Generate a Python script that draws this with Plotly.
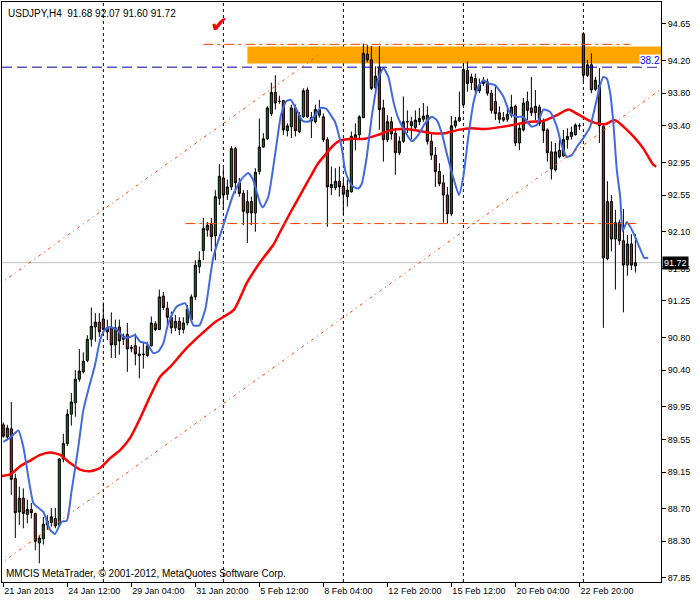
import datetime as dt
import plotly.graph_objects as go

SYMBOL = "USDJPY,H4"
FIRST_BAR = dt.datetime(2013, 1, 21, 20, 0)
BAR_HOURS = 4
LABEL_EVERY = 16

OPEN = [89.73, 89.58, 89.68, 89.07, 88.66, 88.83, 88.63, 88.69, 88.64, 88.28,
        88.33, 88.50, 88.53, 88.58, 88.50, 89.31, 89.50, 89.86, 90.00, 90.29,
        90.38, 90.52, 90.78, 90.93, 90.99, 91.03, 90.92, 90.92, 90.71, 90.93,
        90.78, 90.84, 90.68, 90.70, 90.60, 90.60, 90.58, 90.70, 90.97, 90.90,
        91.31, 91.16, 91.05, 90.92, 91.00, 90.90, 90.98, 91.02, 91.30, 91.67,
        91.87, 92.12, 92.19, 92.05, 92.51, 92.76, 92.56, 92.65, 93.12, 92.70,
        92.57, 92.33, 92.47, 92.33, 92.84, 93.14, 93.24, 93.55, 93.81, 93.70,
        93.71, 93.34, 93.39, 93.62, 93.33, 93.51, 93.84, 93.50, 93.45, 93.53,
        93.51, 93.23, 92.64, 92.64, 92.72, 92.66, 92.53, 92.59, 93.24, 93.29,
        93.50, 94.28, 94.21, 93.87, 94.12, 93.62, 93.23, 93.45, 93.31, 93.07,
        93.21, 93.45, 93.45, 93.38, 93.45, 93.48, 93.53, 93.21, 93.04, 92.84,
        92.70, 92.55, 92.32, 93.40, 93.46, 93.66, 94.08, 93.93, 93.98, 93.83,
        93.96, 93.94, 93.80, 93.70, 93.56, 93.50, 93.48, 93.53, 93.64, 93.19,
        93.35, 93.70, 93.62, 93.56, 93.63, 93.44, 93.35, 93.08, 92.86, 93.10,
        93.03, 93.23, 93.27, 93.29, 93.40, 94.53, 94.02, 94.15, 93.85, 93.90,
        93.39, 91.77, 92.47, 92.01, 92.21, 91.99, 91.69, 91.95, 91.68]
HIGH = [89.76, 89.73, 90.01, 89.13, 88.97, 88.95, 88.81, 88.77, 88.65, 88.38,
        88.60, 88.62, 88.71, 88.71, 89.32, 89.62, 89.92, 90.12, 90.40, 90.66,
        90.62, 90.83, 91.17, 91.10, 91.10, 91.23, 91.02, 91.11, 91.02, 91.02,
        90.85, 90.98, 90.71, 90.85, 90.69, 90.75, 90.75, 91.06, 91.00, 91.39,
        91.36, 91.24, 91.12, 91.08, 91.05, 91.05, 91.20, 91.33, 91.75, 91.86,
        92.27, 92.22, 92.27, 92.61, 92.93, 92.88, 92.74, 93.15, 93.14, 92.76,
        92.61, 92.61, 92.53, 92.88, 93.49, 93.31, 93.64, 93.93, 94.02, 93.77,
        93.72, 93.43, 93.66, 93.66, 93.57, 93.86, 93.87, 93.57, 93.66, 93.72,
        93.55, 93.26, 92.90, 92.88, 92.90, 92.74, 92.74, 93.33, 93.43, 93.53,
        94.41, 94.39, 94.38, 94.13, 94.38, 93.72, 93.53, 93.51, 93.37, 93.27,
        93.76, 93.59, 93.51, 93.59, 93.62, 93.68, 93.64, 93.31, 93.14, 92.94,
        92.80, 92.65, 93.52, 93.51, 93.82, 94.17, 94.19, 94.04, 94.04, 93.98,
        94.00, 93.98, 93.84, 93.88, 93.64, 93.57, 93.62, 93.78, 93.66, 93.43,
        93.74, 93.82, 94.00, 93.84, 93.66, 93.49, 93.37, 93.21, 93.19, 93.23,
        93.35, 93.37, 93.39, 93.43, 93.43, 94.55, 94.21, 94.29, 94.00, 94.11,
        93.42, 92.72, 92.55, 92.37, 92.25, 92.38, 92.06, 92.07, 92.07]
LOW = [89.57, 89.54, 88.87, 88.34, 88.50, 88.46, 88.52, 88.58, 88.19, 88.03,
       88.26, 88.44, 88.48, 88.46, 88.48, 89.27, 89.47, 89.72, 89.83, 90.26,
       90.36, 90.50, 90.69, 90.75, 90.81, 90.82, 90.77, 90.55, 90.55, 90.59,
       90.71, 90.38, 90.62, 90.46, 90.30, 90.42, 90.56, 90.69, 90.88, 90.89,
       91.14, 90.96, 90.85, 90.88, 90.83, 90.85, 90.95, 90.98, 91.26, 91.59,
       91.75, 92.04, 91.86, 91.75, 92.43, 92.37, 92.49, 92.61, 92.57, 92.53,
       92.18, 91.96, 92.18, 92.10, 92.80, 93.13, 93.23, 93.52, 93.60, 93.67,
       93.29, 93.27, 93.25, 93.27, 93.31, 93.50, 93.50, 93.25, 93.43, 93.50,
       93.20, 92.16, 92.55, 92.61, 92.53, 92.31, 92.41, 92.58, 93.10, 93.25,
       93.50, 94.18, 93.84, 93.84, 93.35, 92.96, 93.20, 93.23, 92.80, 93.04,
       93.19, 93.31, 93.23, 93.35, 93.41, 93.45, 93.17, 92.98, 92.65, 92.66,
       92.21, 92.20, 92.29, 93.37, 93.45, 93.64, 93.82, 93.84, 93.78, 93.80,
       93.89, 93.77, 93.55, 93.47, 93.43, 93.45, 93.45, 93.50, 93.15, 93.10,
       93.33, 93.47, 93.52, 93.47, 93.40, 93.19, 92.96, 92.74, 92.84, 93.00,
       93.02, 93.12, 93.23, 93.28, 93.35, 93.94, 94.00, 93.80, 93.83, 93.19,
       90.92, 91.75, 91.86, 91.39, 91.94, 91.11, 91.56, 91.63, 91.60]
CLOSE = [89.59, 89.69, 89.06, 88.65, 88.83, 88.64, 88.69, 88.65, 88.30, 88.34,
         88.51, 88.55, 88.60, 88.49, 89.31, 89.50, 89.86, 90.01, 90.29, 90.39,
         90.51, 90.78, 90.94, 90.99, 90.87, 90.90, 90.87, 90.71, 90.92, 90.76,
         90.82, 90.66, 90.67, 90.60, 90.58, 90.59, 90.70, 90.98, 90.90, 91.30,
         91.17, 91.05, 90.92, 91.00, 90.90, 90.98, 91.15, 91.30, 91.69, 91.75,
         92.14, 92.18, 92.04, 92.53, 92.78, 92.55, 92.65, 93.12, 92.70, 92.57,
         92.35, 92.47, 92.33, 92.83, 93.14, 93.24, 93.62, 93.81, 93.68, 93.70,
         93.35, 93.40, 93.62, 93.34, 93.53, 93.83, 93.51, 93.46, 93.60, 93.60,
         93.23, 92.65, 92.68, 92.72, 92.65, 92.56, 92.61, 93.27, 93.29, 93.51,
         94.29, 94.21, 93.86, 94.01, 93.60, 93.23, 93.45, 93.30, 93.07, 93.21,
         93.45, 93.45, 93.40, 93.47, 93.49, 93.52, 93.21, 93.04, 92.84, 92.69,
         92.55, 92.32, 93.40, 93.46, 93.50, 94.09, 93.92, 94.00, 93.84, 93.90,
         93.92, 93.80, 93.59, 93.55, 93.48, 93.47, 93.54, 93.63, 93.19, 93.37,
         93.68, 93.59, 93.56, 93.64, 93.43, 93.34, 93.07, 92.87, 93.08, 93.02,
         93.23, 93.27, 93.32, 93.41, 93.40, 94.02, 94.15, 93.84, 93.96, 93.40,
         91.78, 92.47, 92.01, 92.21, 91.99, 91.69, 91.95, 91.69, 91.72]

# fast moving average (blue), read at bar positions
FAST_BAR = [0, 1.7, 3.75, 5, 6.25, 7.5, 8.75, 10, 11.7, 12.9,
            14.6, 15.85, 17.1, 18.75, 20, 21.25, 22.9, 24.2, 25.4, 26.7,
            28.35, 30, 31.25, 32.9, 34.2, 35.85, 37.5, 38.75, 40, 41.25,
            43.3, 45.5, 47.5, 49, 50.5, 52.5, 55, 57.5, 59.6, 61.2,
            62.4, 64.2, 64.9, 66.25, 68.2, 69.4, 70.7, 71.8, 73.2, 74.8,
            76.2, 77.8, 79.3, 80.7, 82, 82.9, 83.8, 84.7, 85.4, 86.25,
            87.5, 88.75, 89.6, 90.85, 92.1, 93.75, 95, 96.25, 97.5, 98.75,
            100.4, 102.1, 103.75, 105.4, 107.1, 108.35, 109.6, 110.85, 112.5, 113.9,
            115, 116.25, 117.5, 118.75, 120, 121.25, 122.9, 125, 126.7, 128.35,
            130, 131.25, 132.1, 133.35, 135, 136.7, 138.35, 139.6, 140.85, 142.1,
            143.35, 145, 146.7, 147.9, 149.2, 150, 150.85, 151.7, 152.5, 153.35,
            154.2, 154.8, 155.85, 156.7, 157.9, 159.6, 160.2, 161.2]
FAST_MA = [89.52, 89.57, 89.66, 89.46, 89.09, 88.77, 88.71, 88.66, 88.44, 88.39,
           88.54, 88.55, 88.93, 89.46, 89.91, 90.16, 90.46, 90.77, 90.90, 90.93,
           90.90, 90.81, 90.80, 90.83, 90.75, 90.73, 90.61, 90.63, 90.73, 90.98,
           91.18, 91.22, 90.95, 90.95, 91.15, 91.79, 92.18, 92.56, 92.75, 92.82,
           92.74, 92.45, 92.40, 92.53, 93.14, 93.53, 93.70, 93.72, 93.61, 93.46,
           93.45, 93.52, 93.62, 93.61, 93.52, 93.45, 93.30, 93.10, 92.86, 92.74,
           92.65, 92.63, 92.69, 93.02, 93.51, 93.98, 94.11, 94.00, 93.70, 93.49,
           93.33, 93.21, 93.29, 93.43, 93.51, 93.47, 93.31, 93.06, 92.76, 92.55,
           92.78, 93.27, 93.68, 93.88, 93.96, 93.92, 93.90, 93.76, 93.55, 93.51,
           93.51, 93.43, 93.39, 93.41, 93.60, 93.57, 93.39, 93.16, 93.02, 93.04,
           93.14, 93.25, 93.39, 93.63, 93.90, 94.00, 93.98, 93.80, 93.43, 92.86,
           92.53, 92.11, 92.22, 92.16, 92.04, 91.84, 91.78, 91.78]

# slow moving average (red)
SLOW_BAR = [-0.8, 1.7, 4.2, 6.7, 9.2, 11.7, 14.2, 16.7, 19.2, 21.7,
            24.2, 26.7, 29.2, 31.7, 34.2, 36.7, 39.2, 41.7, 45.4, 49.2,
            52.9, 57.6, 60.85, 64.4, 67.5, 69.2, 71.7, 74.2, 76.7, 78.7,
            80.4, 82.1, 83.75, 87.1, 90.4, 93.75, 97.1, 100.4, 103.75, 107.1,
            110.4, 113.75, 117.1, 120.4, 125, 128.35, 131.7, 135, 138.35, 141.25,
            143.35, 145.85, 148.35, 150.4, 152.9, 155, 157.5, 160, 162.5, 163.2]
SLOW_MA = [89.10, 89.12, 89.22, 89.29, 89.36, 89.39, 89.36, 89.26, 89.18, 89.16,
           89.20, 89.32, 89.42, 89.57, 89.81, 90.08, 90.32, 90.44, 90.65, 90.83,
           90.99, 91.14, 91.47, 91.74, 91.94, 92.10, 92.33, 92.55, 92.77, 92.94,
           93.04, 93.14, 93.21, 93.24, 93.24, 93.29, 93.35, 93.36, 93.34, 93.31,
           93.31, 93.35, 93.37, 93.36, 93.39, 93.42, 93.45, 93.46, 93.53, 93.60,
           93.55, 93.48, 93.43, 93.42, 93.47, 93.39, 93.27, 93.12, 92.92, 92.90]

PRICE_TICKS = [87.85, 88.30, 88.70, 89.15, 89.55, 89.95, 90.40, 90.80, 91.25,
               91.65, 92.10, 92.55, 92.95, 93.40, 93.80, 94.20, 94.65]
PRICE_RANGE = [87.80, 94.92]
BAR_RANGE = [-0.33, 164.4]

# chart objects (price levels / bar anchors)
ZONE_BAR = 61
ZONE_PRICES = [94.165, 94.375]
FIBO_LEVEL = 94.12
FIBO_TEXT = "38.2"
TOP_LEVEL = (94.40, 50, 156.7)
LOW_LEVEL = (92.20, 45.5, 159)
CHANNEL_LOW = ((-1, 88.015), (165, 93.87))
CHANNEL_HIGH = ((-1, 91.455), (79, 94.275))
CHECK_MARK = (54, 94.64)

# ---------------------------------------------------------------
n = len(CLOSE)
times = []
t = FIRST_BAR
while len(times) < n:
    if t.weekday() < 5:
        times.append(t)
    t += dt.timedelta(hours=BAR_HOURS)
bars = list(range(n))

tick_bars = list(range(0, n, LABEL_EVERY))
tick_text = []
for k in tick_bars:
    tt = times[k]
    if k == 0:
        tick_text.append(f"{tt.day} {tt:%b %Y}")
    else:
        tick_text.append(f"{tt.day} {tt:%b %H:%M}")
separators = [i for i, tt in enumerate(times) if tt.weekday() == 0 and tt.hour == 0]

FONT = "Liberation Sans"
ORANGE_RED = "#FF4500"

fig = go.Figure()
fig.add_trace(go.Candlestick(
    x=bars, open=OPEN, high=HIGH, low=LOW, close=CLOSE,
    increasing=dict(line=dict(color="black", width=1), fillcolor="#008000"),
    decreasing=dict(line=dict(color="black", width=1), fillcolor="#FF0000"),
    whiskerwidth=0, hoverinfo="skip", showlegend=False))
fig.add_trace(go.Scatter(x=SLOW_BAR, y=SLOW_MA, mode="lines",
                         line=dict(color="#FF0000", width=2.5, shape="spline", smoothing=0.6),
                         hoverinfo="skip", showlegend=False))
fig.add_trace(go.Scatter(x=FAST_BAR, y=FAST_MA, mode="lines",
                         line=dict(color="#4169E1", width=2, shape="spline", smoothing=0.5),
                         hoverinfo="skip", showlegend=False))

shapes = []
shapes.append(dict(type="rect", xref="x", yref="y", x0=ZONE_BAR, x1=BAR_RANGE[1] + 2,
                   y0=ZONE_PRICES[0], y1=ZONE_PRICES[1], fillcolor="#FFA500",
                   line=dict(width=0), layer="below"))
for s in separators:
    shapes.append(dict(type="line", xref="x", yref="paper", x0=s, x1=s, y0=0, y1=1,
                       line=dict(color="black", width=1, dash="3px,3px"), layer="below"))
shapes.append(dict(type="line", xref="paper", yref="y", x0=0, x1=1,
                   y0=CLOSE[-1], y1=CLOSE[-1], line=dict(color="#C0C0C0", width=1),
                   layer="below"))
shapes.append(dict(type="line", xref="paper", yref="y", x0=0, x1=1,
                   y0=FIBO_LEVEL, y1=FIBO_LEVEL,
                   line=dict(color="#0000A0", width=1, dash="10px,5px")))
for lvl, a, b in (TOP_LEVEL, LOW_LEVEL):
    shapes.append(dict(type="line", xref="x", yref="y", x0=a, x1=b, y0=lvl, y1=lvl,
                       line=dict(color=ORANGE_RED, width=1, dash="10px,4px,3px,4px")))
for (xa, ya), (xb, yb) in (CHANNEL_LOW, CHANNEL_HIGH):
    shapes.append(dict(type="line", xref="x", yref="y", x0=xa, x1=xb, y0=ya, y1=yb,
                       line=dict(color=ORANGE_RED, width=1, dash="3px,4px,1px,4px")))

annotations = [
    dict(xref="paper", yref="paper", x=0, y=1, xanchor="left", yanchor="top",
         xshift=4, yshift=-4, showarrow=False,
         text=f"{SYMBOL}\u00a0\u00a0{OPEN[-1]:.2f} {HIGH[-1]:.2f} {LOW[-1]:.2f} {CLOSE[-1]:.2f}",
         font=dict(family=FONT, size=10, color="black")),
    dict(xref="paper", yref="paper", x=0, y=0, xanchor="left", yanchor="bottom",
         xshift=2, yshift=1, showarrow=False,
         text="MMCIS MetaTrader, © 2001-2012, MetaQuotes Software Corp.",
         font=dict(family=FONT, size=10, color="black")),
    dict(xref="paper", yref="y", x=1, y=FIBO_LEVEL, xanchor="right", yanchor="bottom",
         showarrow=False, text=FIBO_TEXT, bgcolor="white", borderpad=0,
         font=dict(family=FONT, size=10, color="#0000FF")),
    dict(xref="paper", yref="y", x=1, y=CLOSE[-1], xanchor="left", yanchor="middle",
         xshift=1, showarrow=False, text=f"{CLOSE[-1]:.2f}", bgcolor="black", borderpad=1,
         font=dict(family=FONT, size=9, color="white")),
    dict(xref="x", yref="y", x=CHECK_MARK[0], y=CHECK_MARK[1], showarrow=False,
         text="✔", font=dict(family="DejaVu Sans", size=22, color="#FF0000")),
]

fig.update_layout(
    width=700, height=600,
    margin=dict(l=2, r=39, t=2, b=18),
    paper_bgcolor="white", plot_bgcolor="white",
    showlegend=False, hovermode=False, boxgap=0.25,
    shapes=shapes, annotations=annotations,
    xaxis=dict(range=BAR_RANGE, showgrid=False, zeroline=False, showline=True,
               linecolor="black", linewidth=1, mirror=True,
               ticks="outside", ticklen=4, tickcolor="black",
               tickvals=tick_bars, ticktext=tick_text,
               ticklabelposition="outside right",
               tickfont=dict(family=FONT, size=9, color="black"),
               rangeslider=dict(visible=False), fixedrange=True),
    yaxis=dict(side="right", range=PRICE_RANGE, showgrid=False, zeroline=False,
               showline=True, linecolor="black", linewidth=1, mirror=True,
               ticks="outside", ticklen=4, tickcolor="black",
               tickvals=PRICE_TICKS, ticktext=[f"{v:.2f}" for v in PRICE_TICKS],
               tickfont=dict(family=FONT, size=9, color="black"), fixedrange=True),
)

fig.write_html("out.html", config={"displayModeBar": False},
               post_script="document.body.style.margin='0';")
